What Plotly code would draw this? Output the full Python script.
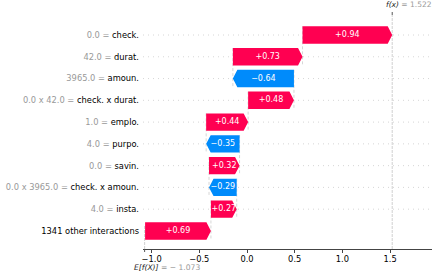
import plotly.graph_objects as go

features = ["check.", "durat.", "amoun.", "check. x durat.", "emplo.", "purpo.",
            "savin.", "check. x amoun.", "insta.", "1341 other interactions"]
feature_values = ["0.0", "42.0", "3965.0", "0.0 x 42.0", "1.0", "4.0",
                  "0.0", "0.0 x 3965.0", "4.0", ""]
shap_values = [0.94, 0.73, -0.64, 0.48, 0.44, -0.35, 0.32, -0.29, 0.27, 0.69]
base_value = -1.073
fx_value = 1.522
x_ticks = [-1.0, -0.5, 0.0, 0.5, 1.0, 1.5]

POS = "#ff0051"
NEG = "#008bfb"
FONT = "DejaVu Sans"
BAR_W = 0.8
HEAD = 0.047

n = len(features)
rows = list(range(n - 1, -1, -1))

fig = go.Figure()
shapes = []

pos_x, pos_y, neg_x, neg_y = [], [], [], []
txt_x, txt_y, txt = [], [], []
loc = fx_value
for i, v in enumerate(shap_values):
    y = rows[i]
    tip = loc
    tail = loc - v
    loc = tail
    sgn = 1 if v >= 0 else -1
    hl = min(HEAD, abs(v)) * sgn
    px = [tail, tip - hl, tip, tip - hl, tail, tail, None]
    py = [y - BAR_W / 2, y - BAR_W / 2, y, y + BAR_W / 2, y + BAR_W / 2, y - BAR_W / 2, None]
    if v >= 0:
        pos_x += px; pos_y += py
    else:
        neg_x += px; neg_y += py
    txt_x.append((tail + tip) / 2)
    txt_y.append(y)
    txt.append(f"{v:+.2f}".replace("-", "\u2212"))
    if i < n - 1:
        # dotted row guide
        shapes.append(dict(type="line", xref="paper", yref="y", x0=0, x1=1, y0=y, y1=y,
                           line=dict(color="#cccccc", width=0.8, dash="1px,4px"), layer="below"))
        # connector
        shapes.append(dict(type="line", xref="x", yref="y", x0=tail, x1=tail,
                           y0=y + BAR_W / 2, y1=y - 1 - BAR_W / 2,
                           line=dict(color="#bbbbbb", width=0.6, dash="3px,2px"), layer="below"))

fig.add_trace(go.Scatter(x=pos_x, y=pos_y, fill="toself", fillcolor=POS, mode="lines",
                         line=dict(width=0, color=POS), hoverinfo="skip", showlegend=False))
fig.add_trace(go.Scatter(x=neg_x, y=neg_y, fill="toself", fillcolor=NEG, mode="lines",
                         line=dict(width=0, color=NEG), hoverinfo="skip", showlegend=False))
fig.add_trace(go.Scatter(x=txt_x, y=txt_y, text=txt, mode="text",
                         textfont=dict(family=FONT, size=8, color="white"),
                         hoverinfo="skip", showlegend=False))

# vertical lines at f(x) and E[f(X)]
shapes.append(dict(type="line", xref="x", yref="paper", x0=fx_value, x1=fx_value, y0=0, y1=1,
                   line=dict(color="#bbbbbb", width=0.7, dash="3px,1px"), layer="below"))
shapes.append(dict(type="line", xref="x", yref="paper", x0=base_value, x1=base_value, y0=0, y1=1 / n,
                   line=dict(color="#bbbbbb", width=0.7, dash="3px,1px"), layer="below"))
# small tick marks
shapes.append(dict(type="line", xref="x", yref="paper", x0=fx_value, x1=fx_value,
                   ysizemode="pixel", yanchor=1, y0=0, y1=3, line=dict(color="#555", width=1)))
shapes.append(dict(type="line", xref="x", yref="paper", x0=base_value, x1=base_value,
                   ysizemode="pixel", yanchor=0, y0=0, y1=-3, line=dict(color="#555", width=1)))

ticktext = []
for name, val in zip(features, feature_values):
    if val:
        ticktext.append(f'<span style="color:#999999">{val} = </span>{name}')
    else:
        ticktext.append(name)

annotations = [
    dict(xref="x", yref="paper", x=fx_value, y=1, xanchor="left", yanchor="bottom",
         xshift=-8, yshift=4, showarrow=False,
         text=f'<i>f(x)</i><span style="color:#999999"> = {fx_value:.3f}</span>',
         font=dict(family=FONT, size=7.5, color="#222")),
    dict(xref="x", yref="paper", x=base_value, y=0, xanchor="left", yanchor="top",
         xshift=-13, yshift=-12, showarrow=False,
         text=f'<i>E[f(X)]</i><span style="color:#999999"> = \u2212 {abs(base_value):.3f}</span>',
         font=dict(family=FONT, size=7.6, color="#222")),
]

fig.update_layout(
    width=436, height=275,
    margin=dict(l=143, r=4, t=15, b=26),
    plot_bgcolor="white", paper_bgcolor="white",
    font=dict(family=FONT, size=8.3, color="black"),
    shapes=shapes, annotations=annotations,
    xaxis=dict(range=[-1.09, 1.939], tickvals=x_ticks, tickformat=".1f",
               showline=True, linecolor="#444", linewidth=1, ticks="outside",
               ticklen=3, tickcolor="#444", showgrid=False, zeroline=False,
               ticklabelstandoff=-1,
               tickfont=dict(family=FONT, size=8.3, color="black")),
    yaxis=dict(range=[-0.83, 9.92], tickvals=rows, ticktext=ticktext,
               showgrid=False, zeroline=False, showline=False, ticks="",
               ticklabelstandoff=3,
               tickfont=dict(family=FONT, size=8.3, color="black")),
)

fig.write_html("out.html", config={"displayModeBar": False},
               post_script="document.body.style.margin='0';document.body.style.overflow='hidden';")
